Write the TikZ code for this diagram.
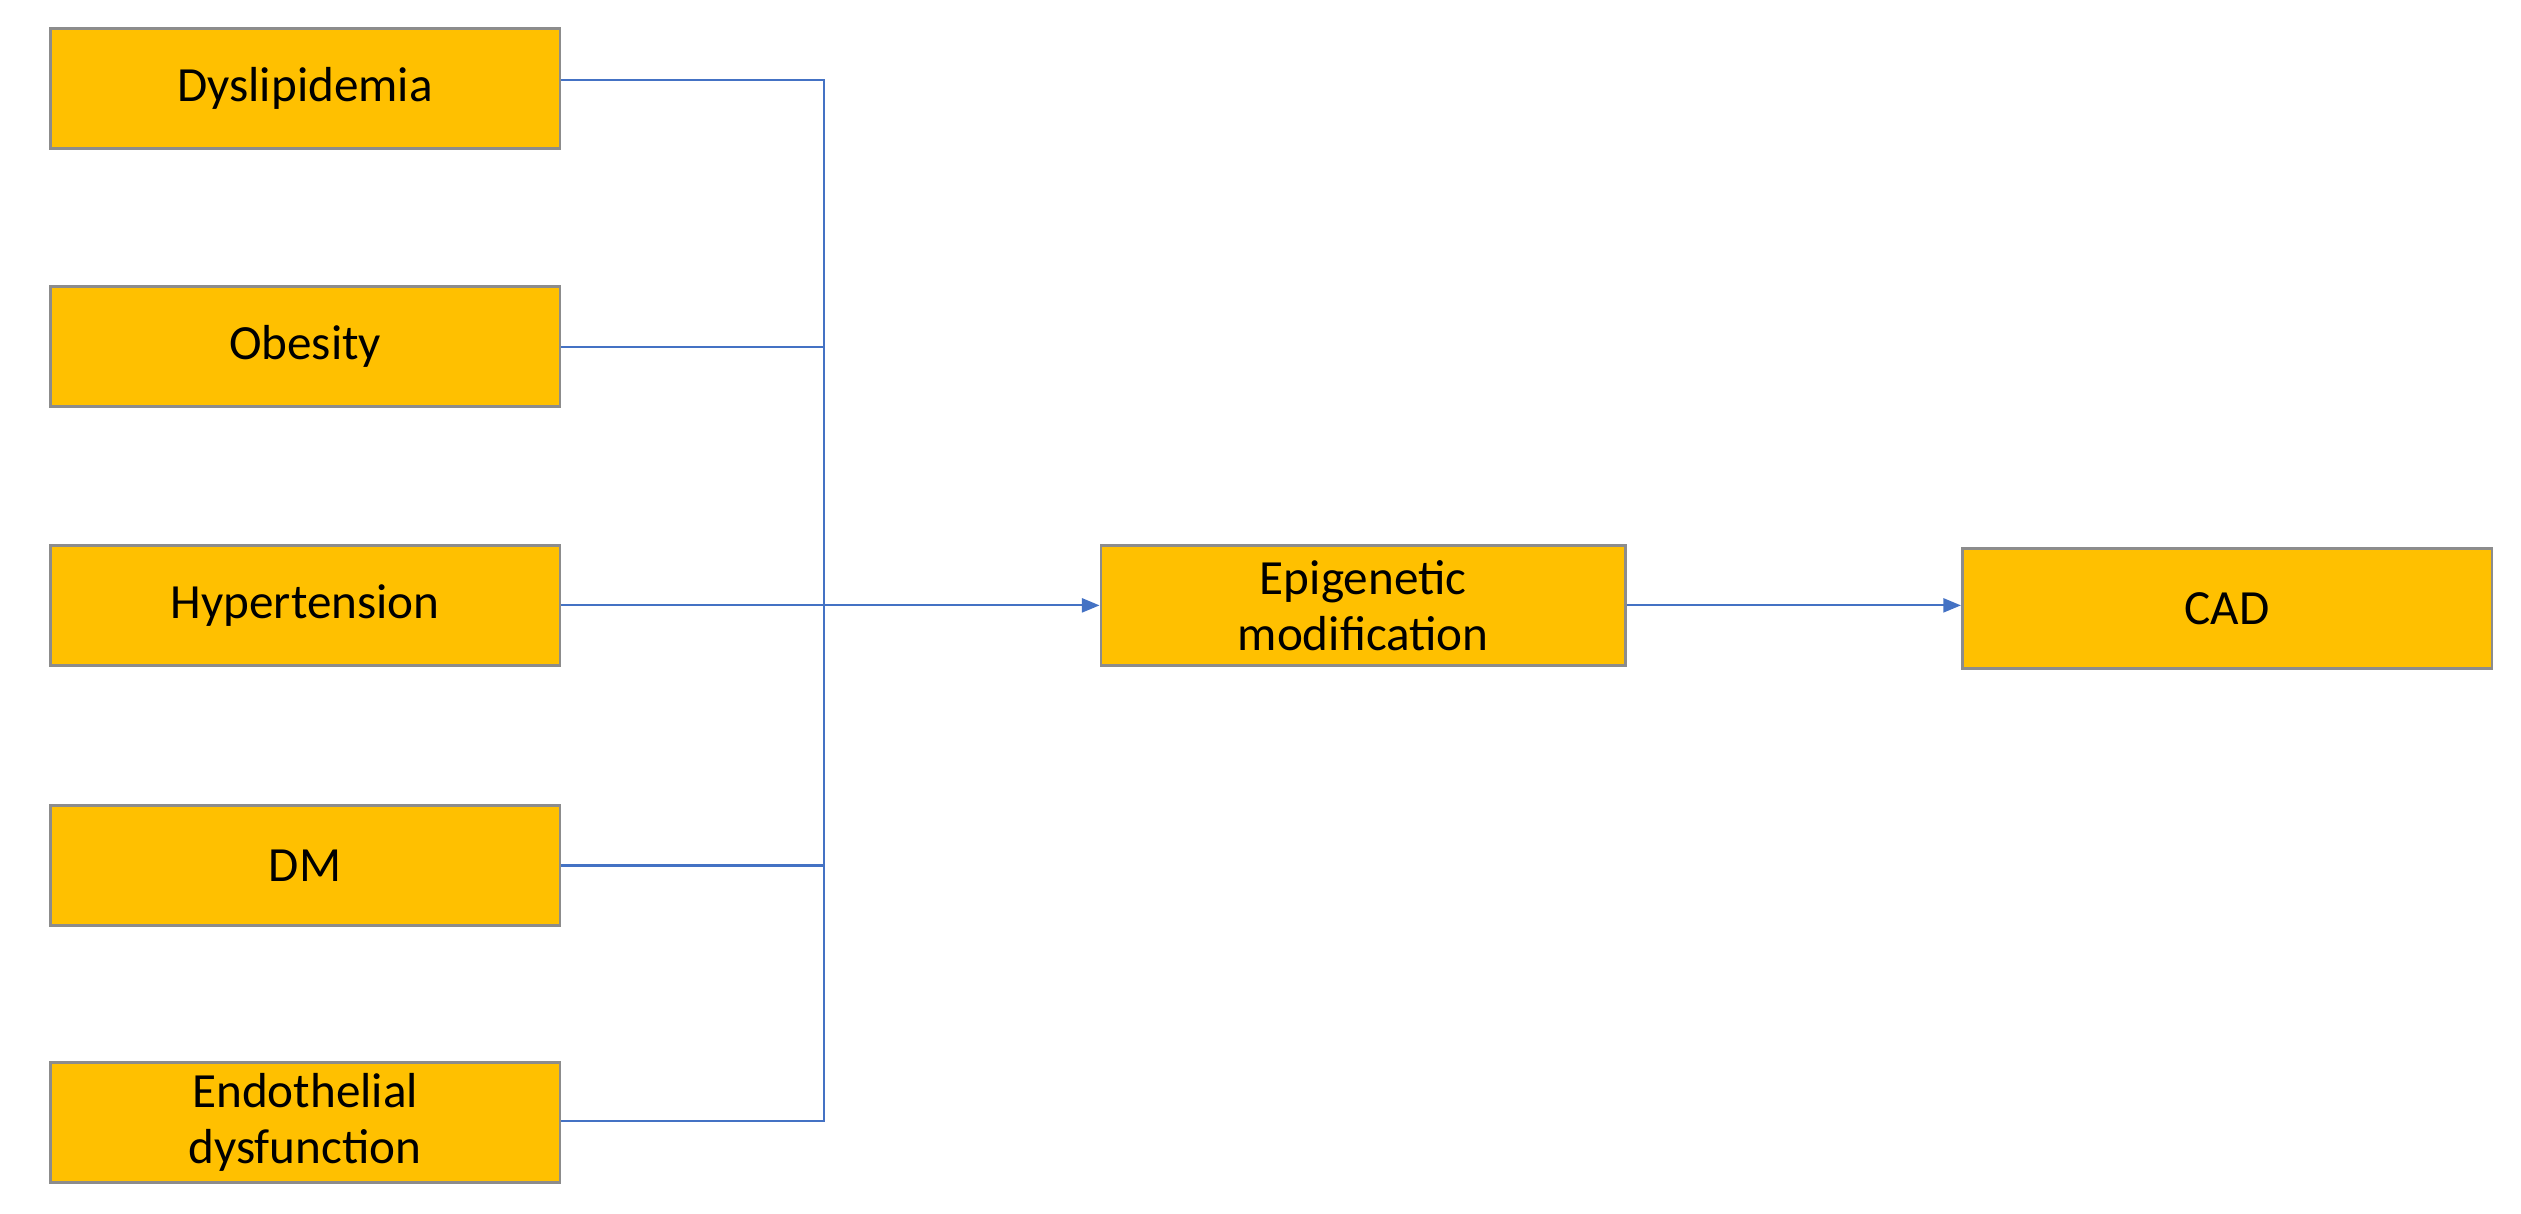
\documentclass[tikz,border=0pt]{standalone}
\usepackage{fontspec}
\setmainfont{Carlito}
\usetikzlibrary{arrows.meta}
\definecolor{boxfill}{HTML}{FFC000}
\definecolor{boxline}{HTML}{8C8C8C}
\definecolor{lineblue}{HTML}{4472C4}
\tikzset{
 box/.style={draw=boxline,line width=0.8pt,fill=boxfill,minimum width=5.1cm,minimum height=1.2cm,inner sep=0pt,align=center,font=\fontsize{14}{16}\selectfont},
 conn/.style={draw=lineblue,line width=0.6pt},
 arr/.style={conn,-{Triangle[length=5pt,width=4pt]}}
}
\begin{document}
\begin{tikzpicture}[x=0.01606cm,y=-0.01606cm]
\useasboundingbox (0,0) rectangle (1570,756);
\node[box] (d) at (190,55) {Dyslipidemia};
\node[box] (o) at (190,216) {Obesity};
\node[box] (h) at (190,377) {Hypertension};
\node[box] (dm) at (190,539) {DM};
\node[box] (e) at (190,699) {Endothelial\\dysfunction};
\node[box,minimum width=5.25cm] (ep) at (849,377) {Epigenetic\\modification};
\node[box,minimum width=5.3cm] (cad) at (1387,379) {CAD};
\coordinate (top) at (513,50);
\coordinate (bot) at (513,698);
\draw[conn] (d.east |- 0,50) -- (top) -- (bot) -- (e.east |- 0,698);
\draw[conn] (o.east) -- (o.east -| top);
\draw[conn] (dm.east) -- (dm.east -| top);
\draw[arr] (h.east) -- (ep.west);
\draw[arr] (ep.east) -- (cad.west |- ep.east);
\end{tikzpicture}
\end{document}
